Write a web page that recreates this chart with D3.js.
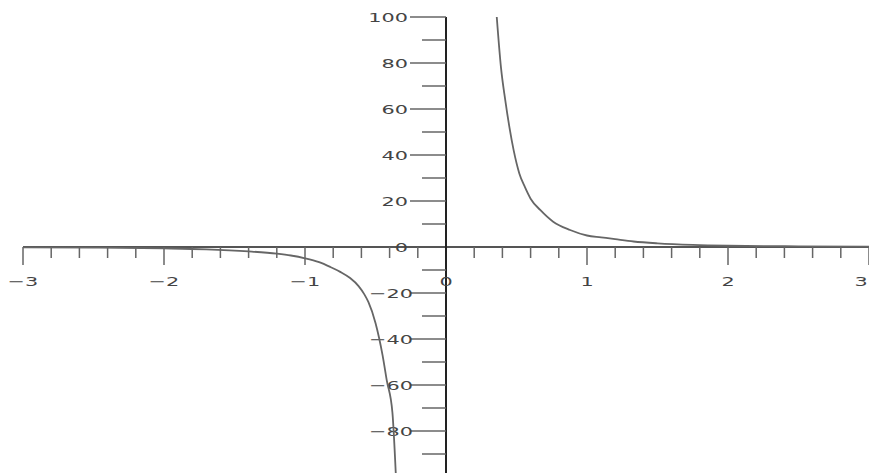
<!DOCTYPE html>
<html>
<head>
<meta charset="utf-8">
<script src="https://cdn.jsdelivr.net/npm/d3@7"></script>
<style>
  body { margin: 0; background: #fff; }
  svg { display: block; }
</style>
</head>
<body>
<div id="chart"></div>
<script>
// values
var xLabels = [-3, -2, -1, 0, 1, 2, 3];
var yLabels = [-80, -60, -40, -20, 0, 20, 40, 60, 80, 100];
// right branch (x > 0)
var xRight = [0.36, 0.39, 0.42, 0.45, 0.48, 0.52, 0.56, 0.6, 0.67, 0.76, 0.88, 1.0, 1.1, 1.2, 1.33, 1.5, 1.75, 2.0, 2.5, 3.0];
var yRight = [100, 78, 64, 52, 42, 32, 26, 21, 16, 11, 7.4, 5, 4.2, 3.4, 2.4, 1.6, 0.9, 0.55, 0.3, 0.2];
// left branch (x < 0)
var xLeft = [-3, -2.5, -2, -1.7, -1.4, -1.2, -1.1, -1.0, -0.9, -0.82, -0.75, -0.68, -0.62, -0.58, -0.55, -0.5, -0.45, -0.42, -0.38, -0.355];
var yLeft = [-0.2, -0.3, -0.6, -1.0, -1.9, -2.9, -3.7, -4.9, -6.6, -8.7, -10.8, -13.5, -17, -20.5, -24, -33, -47, -58, -72, -100];

var W = 869, H = 473;
var svg = d3.select('#chart').append('svg')
    .attr('width', W)
    .attr('height', H);

var x = d3.scaleLinear().domain([-3, 3]).range([23, 869]);
var y = d3.scaleLinear().domain([-100, 100]).range([477, 17]);

svg.append('clipPath').attr('id', 'clip')
  .append('rect').attr('x', 0).attr('y', 0).attr('width', W).attr('height', H);

// x axis: minor every 0.2, long ticks on integers
var xMinor = d3.range(-15, 16).map(function (i) { return i / 5; });
var gx = svg.append('g');
gx.append('line')
    .attr('x1', x(-3)).attr('x2', x(3))
    .attr('y1', y(0)).attr('y2', y(0))
    .attr('stroke', '#555').attr('stroke-width', 2);
gx.selectAll('.xt')
    .data(xMinor.filter(function (d) { return d !== 0; }))
    .enter().append('line')
    .attr('x1', function (d) { return x(d); })
    .attr('x2', function (d) { return x(d); })
    .attr('y1', y(0))
    .attr('y2', function (d) { return y(0) + (Math.abs(d - Math.round(d)) < 1e-9 ? 18 : 11); })
    .attr('stroke', '#666').attr('stroke-width', 1.5);

// y axis: minor every 10, long ticks every 20
var yMinor = d3.range(-10, 11).map(function (i) { return i * 10; });
var gy = svg.append('g');
gy.append('line')
    .attr('x1', x(0)).attr('x2', x(0))
    .attr('y1', y(100)).attr('y2', H)
    .attr('stroke', '#222').attr('stroke-width', 2);
gy.selectAll('.yt')
    .data(yMinor.filter(function (d) { return d !== 0; }))
    .enter().append('line')
    .attr('x1', function (d) { return x(0) - (d % 20 === 0 ? 36 : 24); })
    .attr('x2', x(0))
    .attr('y1', function (d) { return y(d); })
    .attr('y2', function (d) { return y(d); })
    .attr('stroke', '#666').attr('stroke-width', 1.5);

function fmt(d) { return d < 0 ? '\u2212' + Math.abs(d) : String(d); }

// tick labels, wide and squat like the original
svg.selectAll('.xl')
    .data(xLabels)
    .enter().append('text')
    .attr('transform', function (d) { return 'translate(' + Math.min(x(d), 861) + ',286) scale(1.6,1)'; })
    .attr('text-anchor', 'middle')
    .attr('font-family', 'DejaVu Sans, sans-serif')
    .attr('font-size', 13)
    .attr('fill', '#444')
    .text(fmt);

svg.selectAll('.yl')
    .data(yLabels)
    .enter().append('text')
    .attr('transform', function (d) { return 'translate(' + (d < 0 ? 413 : 408) + ',' + (y(d) + 5) + ') scale(1.6,1)'; })
    .attr('text-anchor', 'end')
    .attr('font-family', 'DejaVu Sans, sans-serif')
    .attr('font-size', 13)
    .attr('fill', '#444')
    .text(fmt);

// curve
var line = d3.line()
    .x(function (d) { return x(d[0]); })
    .y(function (d) { return y(d[1]); })
    .curve(d3.curveMonotoneX);

var branches = [d3.zip(xLeft, yLeft), d3.zip(xRight, yRight)];
svg.append('g').attr('clip-path', 'url(#clip)')
  .selectAll('path')
    .data(branches)
    .enter().append('path')
    .attr('d', line)
    .attr('fill', 'none')
    .attr('stroke', '#666')
    .attr('stroke-width', 1.8);
</script>
</body>
</html>
